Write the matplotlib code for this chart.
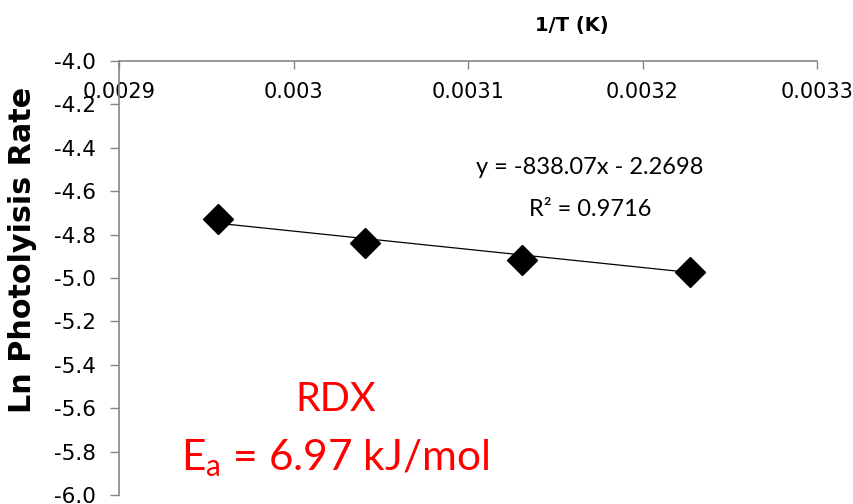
import matplotlib
matplotlib.use("Agg")
import matplotlib.pyplot as plt
import numpy as np

# Data
inv_T = [0.002957, 0.003041, 0.003131, 0.003227]
ln_rate = [-4.730, -4.837, -4.917, -4.972]
slope = -838.07
intercept = -2.2698
r2 = 0.9716
x_ticks = [0.0029, 0.0030, 0.0031, 0.0032, 0.0033]
x_tick_labels = ["0.0029", "0.003", "0.0031", "0.0032", "0.0033"]
y_ticks = [-4.0, -4.2, -4.4, -4.6, -4.8, -5.0, -5.2, -5.4, -5.6, -5.8, -6.0]

W, H = 854, 504
fig = plt.figure(figsize=(W / 100, H / 100), dpi=100)
fig.patch.set_facecolor("white")
ax = fig.add_axes([119 / W, 1 - 495 / H, (817 - 119) / W, (495 - 61) / H])

gray = "#868686"
ax.set_xlim(0.0029, 0.0033)
ax.set_ylim(-6.0, -4.0)

# trendline
xt = np.array([inv_T[0], inv_T[-1]])
ax.plot(xt, slope * xt + intercept, color="black", lw=0.9, zorder=2)
ax.plot(inv_T, ln_rate, linestyle="none", marker="D", ms=15.3,
        color="black", zorder=3, clip_on=False)

for s in ["top", "right"]:
    ax.spines[s].set_visible(False)
ax.spines["bottom"].set_position(("data", -4.0))
ax.spines["bottom"].set_color(gray)
ax.spines["left"].set_color(gray)
ax.spines["bottom"].set_linewidth(1.2)
ax.spines["left"].set_linewidth(1.2)

ax.set_xticks(x_ticks)
ax.set_xticklabels(x_tick_labels)
ax.set_yticks(y_ticks)
ax.set_yticklabels([f"{v:.1f}" for v in y_ticks])
ax.tick_params(axis="x", direction="out", length=6, width=1, color=gray,
               labelsize=15, pad=9, labelcolor="black")
ax.tick_params(axis="y", direction="out", length=6.5, width=1, color=gray,
               labelsize=15.5, pad=10, labelcolor="black")

fig.text(23 / W, 1 - 250 / H, "Ln Photolyisis Rate", rotation=90,
         ha="center", va="center", fontsize=21.8, fontweight="bold",
         family="DejaVu Sans")
fig.text(572 / W, 1 - 26 / H, "1/T (K)", ha="center", va="center",
         fontsize=14, fontweight="bold", family="DejaVu Sans")

fig.text(590 / W, 1 - 168 / H, f"y = {slope:.2f}x - {abs(intercept):.4f}",
         ha="center", va="center", fontsize=17, family="Lato")
fig.text(590 / W, 1 - 209 / H, f"R² = {r2:.4f}",
         ha="center", va="center", fontsize=17, family="Lato")

plt.rcParams["mathtext.fontset"] = "custom"
plt.rcParams["mathtext.rm"] = "Lato"
fig.text(336 / W, 1 - 410.7 / H, "RDX", ha="center", va="baseline",
         fontsize=28.5, color="#ff0000", family="Lato")
fig.text(334.5 / W, 1 - 470 / H, r"E$_\mathregular{a}$ = 6.97 kJ/mol",
         ha="center", va="baseline", fontsize=30.5, color="#ff0000",
         family="Lato")

fig.savefig("out.png", dpi=100, facecolor="white")
